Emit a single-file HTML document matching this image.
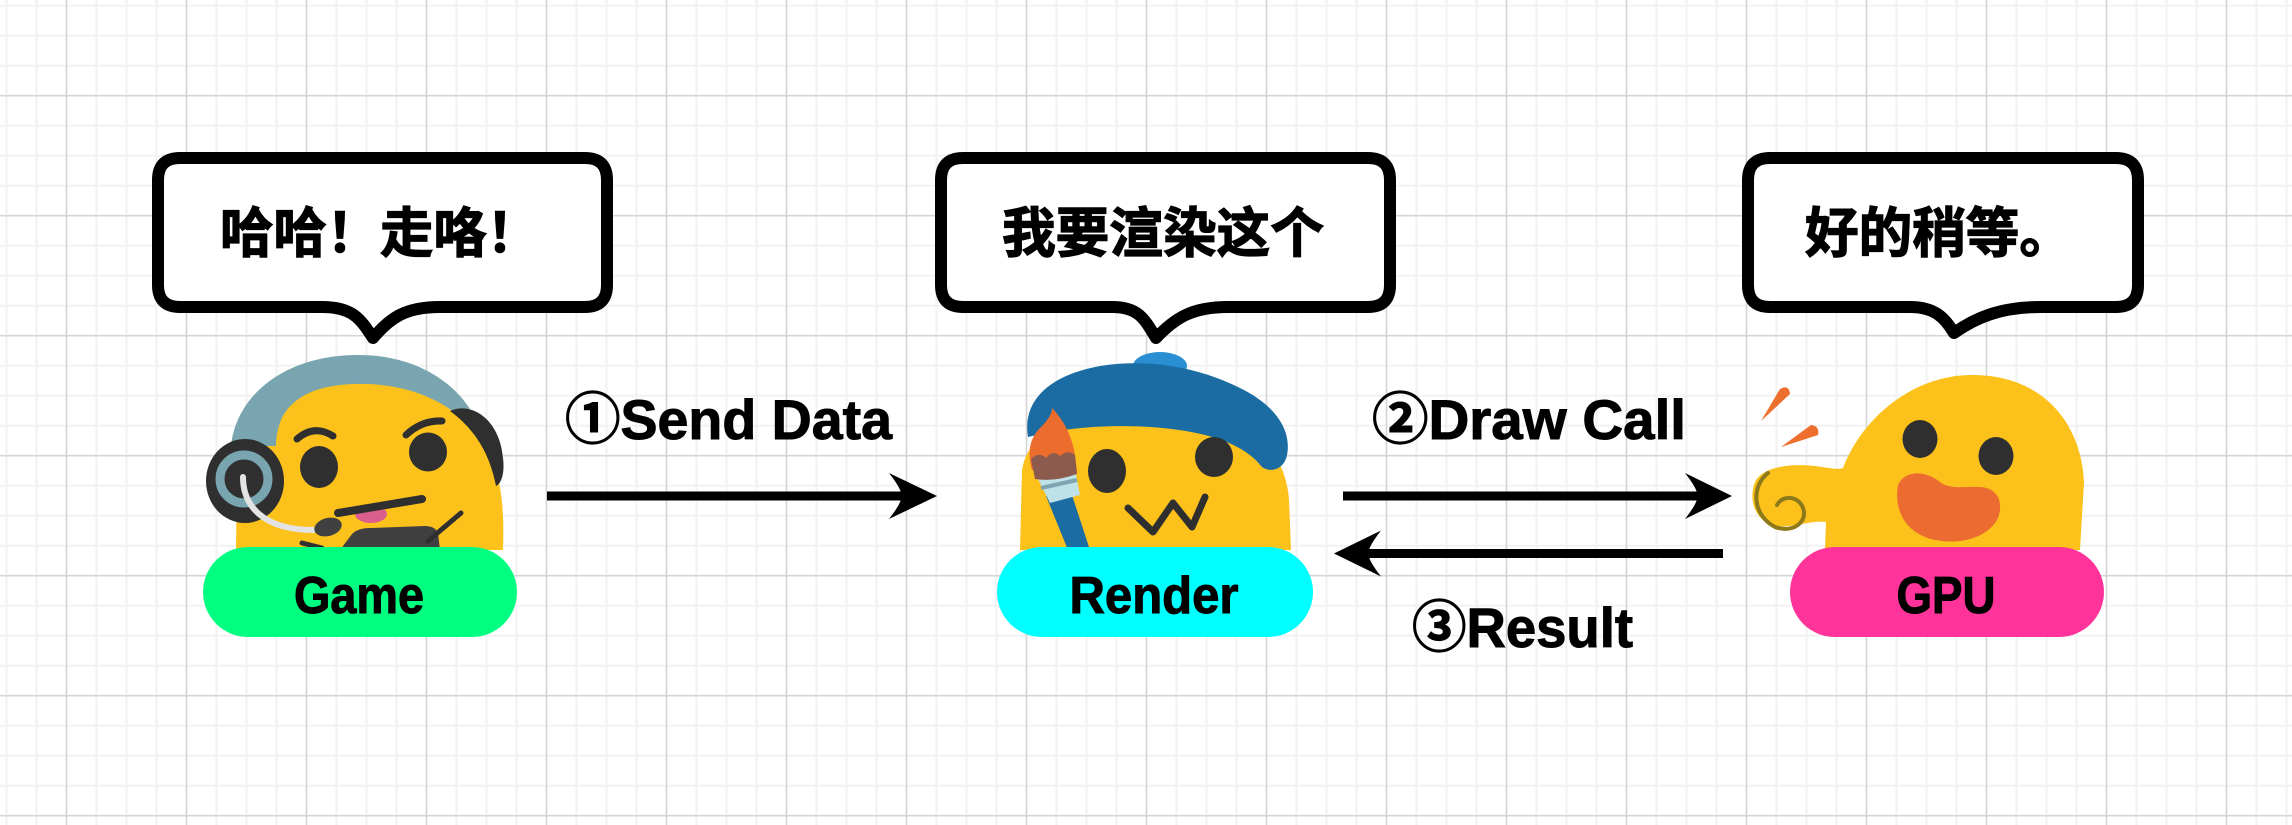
<!DOCTYPE html>
<html>
<head>
<meta charset="utf-8">
<style>
html,body{margin:0;padding:0;background:#fff;}
svg{display:block;}
.lbl{font-family:"Liberation Sans","Noto Sans CJK SC",sans-serif;font-weight:bold;fill:#000;stroke:#000;stroke-width:1;}
.cjk{font-family:"Liberation Sans","Noto Sans CJK SC",sans-serif;font-weight:bold;fill:#000;stroke:#000;stroke-width:1.3;}
</style>
</head>
<body>
<svg width="2292" height="825" viewBox="0 0 2292 825" xmlns="http://www.w3.org/2000/svg">
<defs>
<pattern id="minor" width="30" height="30" patternUnits="userSpaceOnUse">
<rect x="5.5" y="0" width="2" height="30" fill="#f2f2f2"/>
<rect x="0" y="4.7" width="30" height="2" fill="#f2f2f2"/>
</pattern>
<pattern id="major" width="120" height="120" patternUnits="userSpaceOnUse">
<rect x="65.8" y="0" width="1.4" height="120" fill="#d4d4d4"/>
<rect x="0" y="95" width="120" height="1.4" fill="#d4d4d4"/>
</pattern>
</defs>
<rect width="2292" height="825" fill="#fff"/>
<rect width="2292" height="825" fill="url(#minor)"/>
<rect width="2292" height="825" fill="url(#major)"/>

<!-- Speech bubbles -->
<path d="M180 158 H585 Q607 158 607 180 V285 Q607 307 585 307 H440 C405 307 390 318 373 338 C360 318 352 307 322 307 H180 Q158 307 158 285 V180 Q158 158 180 158 Z" fill="#fff" stroke="#000" stroke-width="12" stroke-linejoin="round"/>
<text class="cjk" x="220" y="252" font-size="54" textLength="320" lengthAdjust="spacingAndGlyphs">哈哈！走咯！</text>

<path d="M963 158 H1368 Q1390 158 1390 180 V285 Q1390 307 1368 307 H1228 C1192 307 1175 318 1156 338 C1144 318 1138 307 1112 307 H963 Q941 307 941 285 V180 Q941 158 963 158 Z" fill="#fff" stroke="#000" stroke-width="12" stroke-linejoin="round"/>
<text class="cjk" x="1002" y="252" font-size="54" textLength="322" lengthAdjust="spacingAndGlyphs">我要渲染这个</text>

<path d="M1770 158 H2116 Q2138 158 2138 180 V285 Q2138 307 2116 307 H2041 C2000 307 1975 318 1954 333 C1945 318 1935 307 1910 307 H1770 Q1748 307 1748 285 V180 Q1748 158 1770 158 Z" fill="#fff" stroke="#000" stroke-width="12" stroke-linejoin="round"/>
<text class="cjk" x="1805" y="252" font-size="54" textLength="268" lengthAdjust="spacingAndGlyphs">好的稍等。</text>

<!-- Arrows -->
<rect x="547" y="491.5" width="358" height="9" fill="#000"/>
<path d="M937 496 L889 473 Q903 491 901 496 Q903 501 889 519 Z" fill="#000"/>
<text class="lbl" x="565" y="439" font-size="56" textLength="327" lengthAdjust="spacingAndGlyphs">①Send Data</text>

<rect x="1343" y="491.5" width="360" height="9" fill="#000"/>
<path d="M1732 496 L1685 473 Q1699 491 1697 496 Q1699 501 1685 519 Z" fill="#000"/>
<text class="lbl" x="1372" y="439" font-size="56" textLength="314" lengthAdjust="spacingAndGlyphs">②Draw Call</text>

<rect x="1365" y="549" width="358" height="9" fill="#000"/>
<path d="M1334 553.5 L1381 530.5 Q1367 548.5 1369 553.5 Q1367 558.5 1381 576.5 Z" fill="#000"/>
<text class="lbl" x="1412" y="647" font-size="56" textLength="221" lengthAdjust="spacingAndGlyphs">③Result</text>

<!-- Game emoji -->
<g>
<path d="M236 550 L237 475 C240 420 290 382 355 381 C425 380 480 420 496 470 C503 495 504 520 503 550 Z" fill="#FCC21B"/>
<path d="M231 446 C236 395 285 356 355 355 C405 354 447 374 470 409 L458 415 C430 393 395 383 355 384 C312 385 290 400 281 420 C277 430 276 440 276 446 Z" fill="#78A5AF"/>
<path d="M450 411 C472 401 500 420 503 458 C505 474 501 484 496 486 C490 455 476 430 450 411 Z" fill="#2F2F2F"/>
<ellipse cx="245" cy="481" rx="39" ry="42" fill="#2F2F2F"/>
<circle cx="244" cy="479" r="24" fill="none" stroke="#78A5AF" stroke-width="9"/>
<path d="M243 477 C243 505 262 530 314 530" fill="none" stroke="#E3E3E3" stroke-width="6" stroke-linecap="round"/>
<ellipse cx="319" cy="467" rx="19" ry="21" fill="#2F2F2F"/>
<ellipse cx="428" cy="452" rx="19" ry="19.5" fill="#2F2F2F"/>
<path d="M297 439 Q314 424 333 436" fill="none" stroke="#2F2F2F" stroke-width="7" stroke-linecap="round"/>
<path d="M406 435 Q422 420 442 421" fill="none" stroke="#2F2F2F" stroke-width="7" stroke-linecap="round"/>
<ellipse cx="371" cy="514" rx="16" ry="9" fill="#DB5E8D"/>
<path d="M338 513 L422 499" fill="none" stroke="#2F2F2F" stroke-width="8" stroke-linecap="round"/>
<ellipse cx="328" cy="527" rx="14" ry="9" transform="rotate(-15 328 527)" fill="#404040"/>
<path d="M340 550 L352 534 Q358 528 370 528 L425 526 Q435 526 438 533 L440 550 Z" fill="#404040"/>
<path d="M428 541 L461 513" fill="none" stroke="#2F2F2F" stroke-width="5" stroke-linecap="round"/>
<path d="M302 543 L322 548" fill="none" stroke="#2F2F2F" stroke-width="5" stroke-linecap="round"/>
</g>

<!-- Render emoji -->
<g>
<path d="M1020 550 L1022 470 C1030 420 1100 400 1160 400 C1230 400 1285 440 1289 500 L1291 550 Z" fill="#FCC21B"/>
<ellipse cx="1160" cy="366" rx="27" ry="14" fill="#2A8FD2"/>
<path d="M1028 437 C1022 400 1050 375 1100 366 C1150 358 1200 368 1240 388 C1275 405 1292 430 1287 455 C1284 470 1270 473 1262 467 C1245 445 1210 431 1150 427 C1100 424 1060 429 1028 437 Z" fill="#1B6CA2"/>
<ellipse cx="1107" cy="471" rx="19" ry="22" fill="#2F2F2F"/>
<ellipse cx="1214" cy="457" rx="19" ry="20" fill="#2F2F2F"/>
<path d="M1128 508 L1153 532 L1173 503 L1192 527 L1205 497" fill="none" stroke="#2F2F2F" stroke-width="7" stroke-linecap="round" stroke-linejoin="round"/>
<path d="M1046 496 L1070 489 L1090 550 L1068 550 Z" fill="#1B6CA2"/>
<path d="M1038 479 L1075 470 L1080 495 L1050 503 Z" fill="#BFE1E8"/>
<path d="M1041 488 L1077 480" stroke="#7FA6B0" stroke-width="4"/>
<path d="M1032 470 C1028 455 1028 440 1040 428 C1048 420 1052 414 1052 408 C1062 418 1072 435 1075 455 L1077 472 Z" fill="#EC6C2E"/>
<path d="M1031 459 Q1039 451 1046 458 Q1053 449 1060 456 Q1068 449 1075 455 L1077 474 Q1055 482 1035 479 Z" fill="#8C5B4D"/>
</g>

<!-- GPU emoji -->
<g>
<path d="M1825 550 L1826 522 C1810 520 1795 528 1775 526 C1755 521 1748 500 1755 482 C1762 467 1790 463 1815 466 C1830 468 1838 470 1843 468 C1862 418 1912 376 1970 375 C2040 374 2081 420 2084 482 L2080 550 Z" fill="#FCC21B"/>
<path d="M1768 473 C1751 486 1752 515 1775 527 C1795 534 1808 520 1803 508 C1798 495 1782 495 1777 505" fill="none" stroke="#8C7A1A" stroke-width="4" stroke-linecap="round"/>
<ellipse cx="1920" cy="439" rx="17.5" ry="19" fill="#2F2F2F"/>
<ellipse cx="1996" cy="456" rx="17.5" ry="19" fill="#2F2F2F"/>
<path d="M1898 485 C1905 470 1925 470 1940 482 C1950 490 1965 486 1980 487 C2000 488 2003 505 1998 518 C1988 538 1960 545 1935 540 C1910 535 1893 515 1898 485 Z" fill="#EB6B31"/>
<path d="M1761 421 L1780 389 Q1789 384 1790 394 Z" fill="#EE6E2E"/>
<path d="M1781 447 L1811 425 Q1820 426 1818 435 Z" fill="#EE6E2E"/>
</g>

<!-- Pills -->
<rect x="203" y="547" width="314" height="90" rx="45" fill="#00FF80"/>
<text class="lbl" x="359" y="613" font-size="52" text-anchor="middle" textLength="130" lengthAdjust="spacingAndGlyphs">Game</text>

<rect x="997" y="547" width="316" height="90" rx="45" fill="#00FFFF"/>
<text class="lbl" x="1154" y="613" font-size="52" text-anchor="middle" textLength="169" lengthAdjust="spacingAndGlyphs">Render</text>

<rect x="1790" y="547" width="314" height="90" rx="45" fill="#FF3399"/>
<text class="lbl" x="1946" y="613" font-size="52" text-anchor="middle" textLength="99" lengthAdjust="spacingAndGlyphs">GPU</text>
</svg>
</body>
</html>
